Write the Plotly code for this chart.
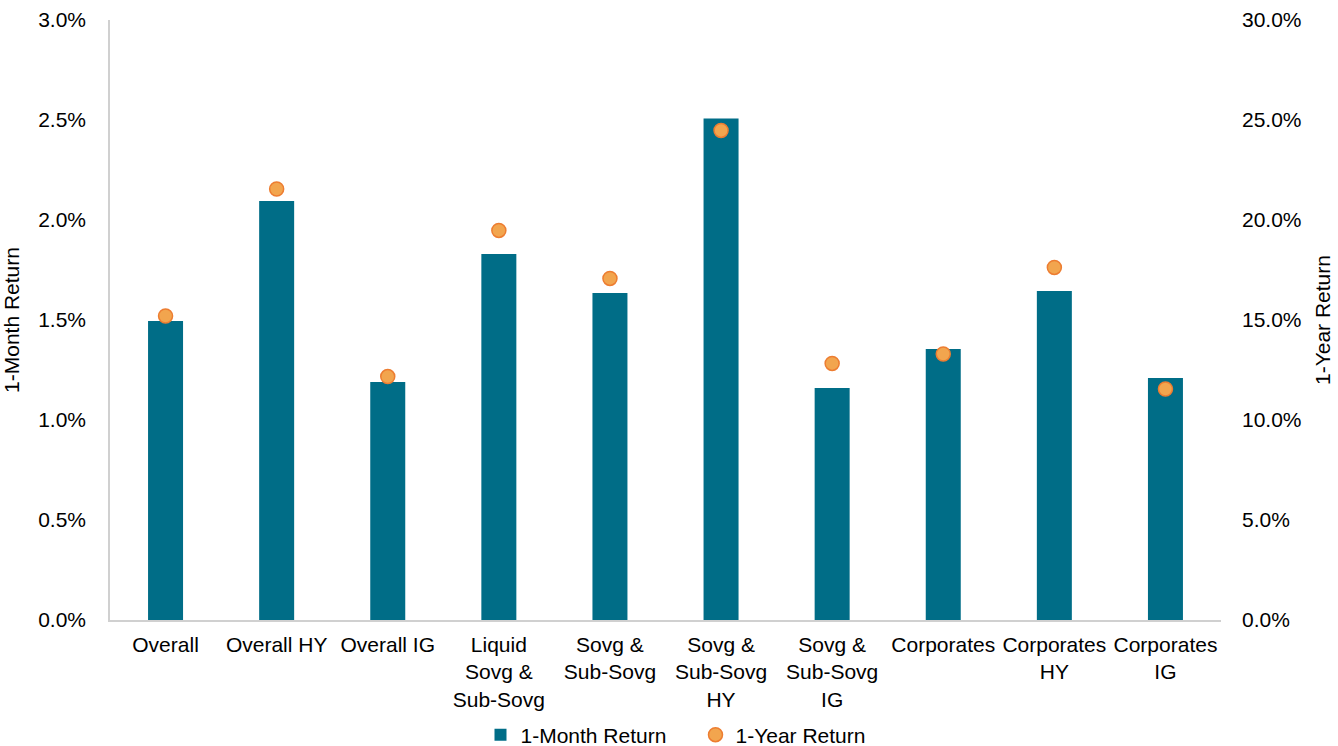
import plotly.graph_objects as go

categories = ["Overall", "Overall HY", "Overall IG", "Liquid<br>Sovg &<br>Sub-Sovg",
              "Sovg &<br>Sub-Sovg", "Sovg &<br>Sub-Sovg<br>HY", "Sovg &<br>Sub-Sovg<br>IG",
              "Corporates", "Corporates<br>HY", "Corporates<br>IG"]
one_month = [1.495, 2.095, 1.19, 1.83, 1.635, 2.507, 1.16, 1.355, 1.645, 1.21]
one_year = [15.2, 21.55, 12.17, 19.48, 17.08, 24.48, 12.83, 13.3, 17.63, 11.55]

FONT = "Liberation Sans, Arial, sans-serif"
FS = 21
fig = go.Figure()
fig.add_trace(go.Bar(x=categories, y=one_month, name="1-Month Return",
                     marker=dict(color="#006D87", line=dict(width=0)), width=0.315))
fig.add_trace(go.Scatter(x=categories, y=one_year, name="1-Year Return", mode="markers",
                         yaxis="y2",
                         marker=dict(size=14, color="#F2A54E",
                                     line=dict(color="#ED7D31", width=1.5))))

fig.update_layout(
    width=1338, height=746,
    margin=dict(l=110, r=117, t=20, b=126),
    paper_bgcolor="white", plot_bgcolor="white",
    font=dict(family=FONT, size=FS, color="#000000"),
    showlegend=True,
    legend=dict(orientation="h", x=0.527, xanchor="center", yref="container",
                y=0.0147, yanchor="middle", font=dict(size=FS), entrywidth=170,
                traceorder="normal"),
    xaxis=dict(range=[-0.5, 9.5], showline=True, linecolor="#D0D0D0", linewidth=1.5,
               ticks="", showgrid=False, tickfont=dict(size=FS), automargin=False,
               ticklabelstandoff=5),
    yaxis=dict(range=[0, 3.0], tickvals=[0, 0.5, 1.0, 1.5, 2.0, 2.5, 3.0],
               ticktext=["0.0%", "0.5%", "1.0%", "1.5%", "2.0%", "2.5%", "3.0%"],
               showgrid=False, zeroline=False, showline=True, linecolor="#D0D0D0",
               linewidth=1.5, ticks="", ticklabelstandoff=18, automargin=False,
               title=dict(text="1-Month Return", font=dict(size=FS), standoff=16)),
    yaxis2=dict(range=[0, 30.0], tickvals=[0, 5, 10, 15, 20, 25, 30],
                ticktext=["0.0%", "5.0%", "10.0%", "15.0%", "20.0%", "25.0%", "30.0%"],
                overlaying="y", side="right", showgrid=False, zeroline=False,
                showline=False, ticks="", ticklabelstandoff=20, automargin=False,
                title=dict(text="1-Year Return", font=dict(size=FS), standoff=14)),
)

fig.write_html("out.html")
